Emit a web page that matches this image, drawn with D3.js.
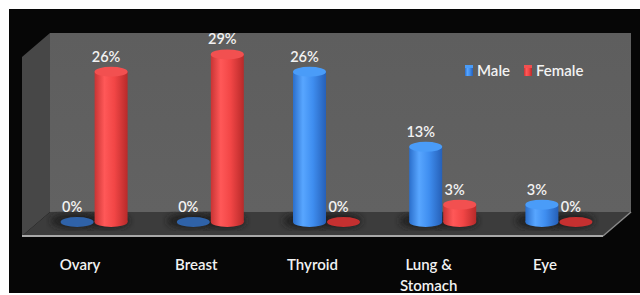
<!DOCTYPE html>
<html>
<head>
<meta charset="utf-8">
<script src="https://cdn.jsdelivr.net/npm/d3@7"></script>
<style>
  body { margin: 0; background: #fff; }
  text { font-family: Lato, "Open Sans", sans-serif; fill: #f2f2f2; font-weight: 600; }
</style>
</head>
<body>
<div id="chart"></div>
<script>
// chart data
const categories = ['Ovary', 'Breast', 'Thyroid', 'Lung & Stomach', 'Eye'];
const series = ['Male', 'Female'];
const maleValues = [0, 0, 26, 13, 3];
const femaleValues = [26, 29, 0, 3, 0];

const width = 640, height = 295;

const svg = d3.select('#chart')
    .append('svg')
    .attr('width', width)
    .attr('height', height);

const defs = svg.append('defs');

// cylinder gradients
function bodyGradient(id, stops) {
    const g = defs.append('linearGradient').attr('id', id)
        .attr('x1', '0%').attr('x2', '100%').attr('y1', '0%').attr('y2', '0%');
    stops.forEach(([o, c]) => g.append('stop').attr('offset', o).attr('stop-color', c));
}
bodyGradient('blueBody', [['0%', '#2b6fcc'], ['30%', '#58a6ff'], ['60%', '#3f8ef0'], ['100%', '#2660b8']]);
bodyGradient('redBody', [['0%', '#c83434'], ['30%', '#ff5858'], ['60%', '#f24646'], ['100%', '#b82a2a']]);

const wallGrad = defs.append('linearGradient').attr('id', 'wall')
    .attr('x1', '0%').attr('x2', '0%').attr('y1', '0%').attr('y2', '100%');
wallGrad.append('stop').attr('offset', '0%').attr('stop-color', '#5e5e5e');
wallGrad.append('stop').attr('offset', '100%').attr('stop-color', '#626262');

defs.append('filter').attr('id', 'blur')
    .append('feGaussianBlur').attr('stdDeviation', 3);

const colors = {
    Male: { body: 'url(#blueBody)', top: '#4a9cf8', flat: '#2f62a8' },
    Female: { body: 'url(#redBody)', top: '#f25050', flat: '#c53030' }
};

// background
svg.append('rect').attr('x', 9).attr('y', 9).attr('width', 631).attr('height', 284).attr('fill', '#060606');

// 3d box geometry
const depthX = 28, depthY = 24;
const backLeft = 50, backRight = 631, backTop = 33, backBottom = 212;

// back wall
svg.append('rect').attr('x', backLeft).attr('y', backTop)
    .attr('width', backRight - backLeft).attr('height', backBottom - backTop)
    .attr('fill', 'url(#wall)');
// left wall
svg.append('polygon')
    .attr('points', [[backLeft - depthX, backTop + depthY], [backLeft, backTop], [backLeft, backBottom], [backLeft - depthX, backBottom + depthY]].join(' '))
    .attr('fill', '#474747');
// floor
svg.append('polygon')
    .attr('points', [[backLeft - depthX, backBottom + depthY], [backRight - depthX, backBottom + depthY], [backRight, backBottom], [backLeft, backBottom]].join(' '))
    .attr('fill', '#3c3c3c');
svg.append('line')
    .attr('x1', backLeft - depthX).attr('x2', backRight - depthX)
    .attr('y1', backBottom + depthY).attr('y2', backBottom + depthY)
    .attr('stroke', '#a8a8a8').attr('stroke-width', 2);
svg.append('line')
    .attr('x1', backRight - depthX).attr('x2', backRight)
    .attr('y1', backBottom + depthY).attr('y2', backBottom)
    .attr('stroke', '#8a8a8a').attr('stroke-width', 1.5);

// scales
const x = d3.scaleBand().domain(categories).range([36, 617]);
const xs = d3.scaleBand().domain(series).range([-34, 34]);
const y = d3.scaleLinear().domain([0, 30]).range([222, 48.6]);

const rx = xs.bandwidth() / 2 - 0.5, ry = 5;

const data = [];
categories.forEach((c, i) => {
    data.push({ cat: c, s: 'Male', v: maleValues[i] });
    data.push({ cat: c, s: 'Female', v: femaleValues[i] });
});
const cx = d => x(d.cat) + x.bandwidth() / 2 + xs(d.s) + xs.bandwidth() / 2;

// floor shadows
svg.append('g').selectAll('ellipse')
    .data(data)
    .join('ellipse')
    .attr('cx', d => cx(d) - 4)
    .attr('cy', y(0) - 1)
    .attr('rx', rx + 6)
    .attr('ry', ry + 3)
    .attr('fill', '#1e1e1e')
    .attr('opacity', 0.8)
    .attr('filter', 'url(#blur)');

// cylinders
const bars = svg.append('g').selectAll('g')
    .data(data)
    .join('g');

bars.filter(d => d.v > 0).append('ellipse')
    .attr('cx', cx).attr('cy', y(0))
    .attr('rx', rx).attr('ry', ry)
    .attr('fill', d => colors[d.s].body);
bars.filter(d => d.v > 0).append('rect')
    .attr('x', d => cx(d) - rx).attr('width', rx * 2)
    .attr('y', d => y(d.v)).attr('height', d => y(0) - y(d.v))
    .attr('fill', d => colors[d.s].body);
bars.append('ellipse')
    .attr('cx', cx).attr('cy', d => y(d.v))
    .attr('rx', rx).attr('ry', ry)
    .attr('fill', d => d.v > 0 ? colors[d.s].top : colors[d.s].flat);

// value labels
svg.append('g').selectAll('text')
    .data(data)
    .join('text')
    .attr('x', d => cx(d) - 5)
    .attr('y', d => y(d.v) - 10)
    .attr('text-anchor', 'middle')
    .attr('font-size', 14.5)
    .text(d => d.v + '%');

// category labels
const catLabels = svg.append('g').selectAll('text')
    .data(categories)
    .join('text')
    .attr('x', d => x(d) + x.bandwidth() / 2 - 14)
    .attr('y', 270)
    .attr('text-anchor', 'middle')
    .attr('font-size', 15);
catLabels.each(function (d) {
    const parts = d === 'Lung & Stomach' ? ['Lung &', 'Stomach'] : [d];
    const t = d3.select(this);
    parts.forEach((p, i) => {
        t.append('tspan')
            .attr('x', x(d) + x.bandwidth() / 2 - 14)
            .attr('dy', i === 0 ? 0 : 21)
            .text(p);
    });
});

// legend
const legend = svg.append('g').attr('transform', 'translate(465,65)');
const legendItems = legend.selectAll('g')
    .data(series)
    .join('g')
    .attr('transform', (d, i) => `translate(${i * 59},0)`);
legendItems.append('rect')
    .attr('width', 8).attr('height', 11)
    .attr('fill', d => colors[d].body);
legendItems.append('rect')
    .attr('width', 8).attr('height', 3)
    .attr('fill', d => colors[d].top);
legendItems.append('text')
    .attr('x', 12).attr('y', 11)
    .attr('font-size', 15)
    .text(d => d);
</script>
</body>
</html>
